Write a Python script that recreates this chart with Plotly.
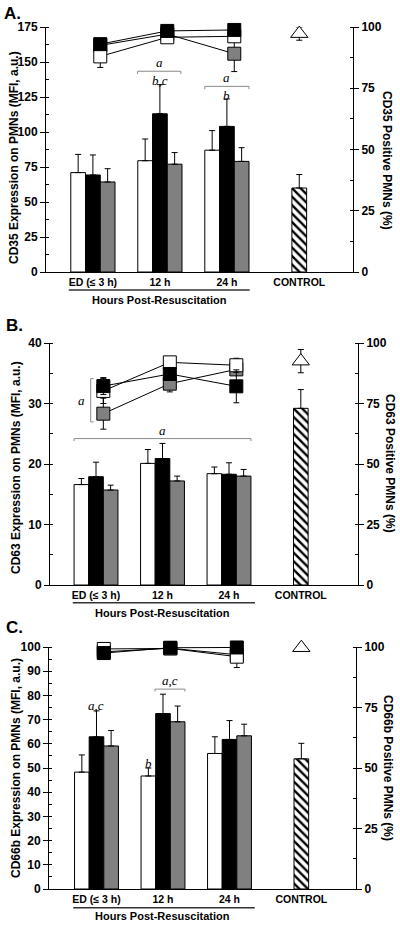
import plotly.graph_objects as go
from plotly.subplots import make_subplots

W, H = 400, 930

# ---------------- data ----------------
categories = ["ED (≤ 3 h)", "12 h", "24 h", "CONTROL"]
cat_pos = [0, 1, 2, 3.08]

# Panel A: CD35
a_mfi_white = [71.0, 79.5, 87.0]
a_mfi_white_err = [13.0, 15.5, 14.0]
a_mfi_black = [69.3, 113.0, 104.0]
a_mfi_black_err = [14.3, 20.8, 19.6]
a_mfi_gray = [64.3, 77.0, 79.0]
a_mfi_gray_err = [9.5, 8.3, 9.8]
a_mfi_control = 60.0
a_mfi_control_err = 9.6
a_pct_white = [88.0, 95.8, 96.2]
a_pct_white_err = [4.5, 2.0, 2.0]
a_pct_black = [93.0, 98.4, 98.8]
a_pct_black_err = [2.0, 1.5, 1.5]
a_pct_gray = [92.5, 97.1, 89.1]
a_pct_gray_err = [2.0, 2.0, 7.3]
a_pct_control = 97.3
a_pct_control_err = 2.7

# Panel B: CD63
b_mfi_white = [16.6, 20.1, 18.4]
b_mfi_white_err = [1.0, 2.3, 1.1]
b_mfi_black = [17.9, 20.9, 18.3]
b_mfi_black_err = [2.4, 2.5, 1.9]
b_mfi_gray = [15.7, 17.2, 18.0]
b_mfi_gray_err = [0.8, 0.8, 1.1]
b_mfi_control = 29.2
b_mfi_control_err = 3.1
b_pct_white = [80.2, 92.0, 90.8]
b_pct_white_err = [5.2, 1.5, 2.9]
b_pct_black = [82.2, 87.2, 82.1]
b_pct_black_err = [3.5, 2.0, 6.8]
b_pct_gray = [70.8, 83.2, 89.1]
b_pct_gray_err = [6.4, 3.4, 1.5]
b_pct_control = 92.5
b_pct_control_err = 4.8

# Panel C: CD66b
c_mfi_white = [48.3, 46.7, 56.0]
c_mfi_white_err = [7.1, 3.3, 6.9]
c_mfi_black = [62.9, 72.5, 61.8]
c_mfi_black_err = [10.7, 8.0, 7.8]
c_mfi_gray = [59.1, 69.1, 63.3]
c_mfi_gray_err = [6.4, 6.5, 4.8]
c_mfi_control = 53.8
c_mfi_control_err = 6.4
c_pct_white = [99.2, 99.4, 96.0]
c_pct_white_err = [1.0, 1.0, 4.5]
c_pct_black = [97.5, 99.7, 99.8]
c_pct_black_err = [1.0, 1.0, 1.0]
c_pct_gray = [98.0, 99.5, 96.8]
c_pct_gray_err = [1.0, 1.0, 1.0]
c_pct_control = 99.7
c_pct_control_err = 0.5

left_titles = ["CD35 Expression on PMNs (MFI, a.u.)",
               "CD63 Expression on PMNs (MFI, a.u.)",
               "CD66b Expression on PMNs (MFI, a.u.)"]
right_titles = ["CD35 Positive PMNs (%)",
                "CD63 Positive PMNs (%)",
                "CD66b Positive PMNs (%)"]
panel_labels = ["A.", "B.", "C."]
group_title = "Hours Post-Resuscitation"

# ---------------- styling / layout ----------------
SANS = "Liberation Sans, Arial, sans-serif"
SERIF = "Liberation Serif, Times New Roman, serif"
GRAY = "#808080"
BW = 0.22
OFFS = [-0.33, -0.11, 0.11]
LINE_DX = 0.11


def px(x):
    return x / W


def py(y):
    return 1 - y / H


# pixel boxes of plot areas: (left, right, top, bottom)
boxes = [(46, 353, 27, 272), (50, 358, 343, 585), (49, 356, 647, 889)]
xranges = [[-0.70, 3.882], [-0.692, 3.94], [-0.714, 3.902]]
lranges = [[0, 175], [0, 40], [0, 100]]
ldticks = [25, 10, 10]
lminor = [12.5, 5, 5]

fig = make_subplots(rows=3, cols=1, specs=[[{"secondary_y": True}]] * 3)

panels = [
    (a_mfi_white, a_mfi_white_err, a_mfi_black, a_mfi_black_err, a_mfi_gray, a_mfi_gray_err,
     a_mfi_control, a_mfi_control_err,
     a_pct_white, a_pct_white_err, a_pct_black, a_pct_black_err, a_pct_gray, a_pct_gray_err,
     a_pct_control, a_pct_control_err),
    (b_mfi_white, b_mfi_white_err, b_mfi_black, b_mfi_black_err, b_mfi_gray, b_mfi_gray_err,
     b_mfi_control, b_mfi_control_err,
     b_pct_white, b_pct_white_err, b_pct_black, b_pct_black_err, b_pct_gray, b_pct_gray_err,
     b_pct_control, b_pct_control_err),
    (c_mfi_white, c_mfi_white_err, c_mfi_black, c_mfi_black_err, c_mfi_gray, c_mfi_gray_err,
     c_mfi_control, c_mfi_control_err,
     c_pct_white, c_pct_white_err, c_pct_black, c_pct_black_err, c_pct_gray, c_pct_gray_err,
     c_pct_control, c_pct_control_err),
]


def bar_err(arr):
    return dict(type="data", array=arr, arrayminus=[0] * len(arr), symmetric=False,
                color="black", thickness=1, width=3)


def sym_err(arr):
    return dict(type="data", array=arr, symmetric=True, color="black", thickness=1, width=3)


for i, p in enumerate(panels):
    (mw, mwe, mb, mbe, mg, mge, mc, mce, pw, pwe, pb, pbe, pg, pge, pc, pce) = p
    row = i + 1
    xs = cat_pos[:3]
    fills = [("white", mw, mwe), ("black", mb, mbe), (GRAY, mg, mge)]
    for (col, vals, errs), off in zip(fills, OFFS):
        fig.add_trace(go.Bar(x=xs, y=vals, width=BW, offset=off,
                             marker=dict(color=col, line=dict(color="black", width=1)),
                             error_y=bar_err(errs), showlegend=False),
                      row=row, col=1, secondary_y=False)
    fig.add_trace(go.Bar(x=[cat_pos[3]], y=[mc], width=BW, offset=-BW / 2,
                         marker=dict(color="white", line=dict(color="black", width=1),
                                     pattern=dict(shape="\\", fgcolor="black", bgcolor="white",
                                                  size=6, solidity=0.4)),
                         error_y=bar_err([mce]), showlegend=False),
                  row=row, col=1, secondary_y=False)
    lx = [v + LINE_DX for v in xs]
    for col, vals, errs in [(GRAY, pg, pge), ("white", pw, pwe), ("black", pb, pbe)]:
        fig.add_trace(go.Scatter(x=lx, y=vals, mode="lines+markers",
                                 line=dict(color="black", width=1),
                                 marker=dict(symbol="square", size=13, color=col,
                                             line=dict(color="black", width=1)),
                                 error_y=sym_err(errs), cliponaxis=False, showlegend=False),
                      row=row, col=1, secondary_y=True)
    fig.add_trace(go.Scatter(x=[cat_pos[3]], y=[pc], mode="markers",
                             marker=dict(symbol="triangle-up", size=15, color="white",
                                         line=dict(color="black", width=1)),
                             error_y=sym_err([pce]), cliponaxis=False, showlegend=False),
                  row=row, col=1, secondary_y=True)

fig.update_layout(template="none", barmode="overlay", width=W, height=H,
                  margin=dict(l=0, r=0, t=0, b=0, autoexpand=False),
                  paper_bgcolor="white", plot_bgcolor="white", showlegend=False,
                  font=dict(family=SANS, color="black"))

annotations = []
shapes = []
for i in range(3):
    l, r, t, b = boxes[i]
    xn = "xaxis" if i == 0 else f"xaxis{i + 1}"
    yl = "yaxis" if i == 0 else f"yaxis{2 * i + 1}"
    yr = f"yaxis{2 * i + 2}"
    dom_y = [py(b), py(t)]
    fig.layout[xn].update(domain=[px(l), px(r)], range=xranges[i], tickvals=cat_pos,
                          ticktext=categories, ticks="", showline=True, linecolor="black",
                          linewidth=1, showgrid=False, zeroline=False, automargin=False,
                          tickfont=dict(family=SANS, size=10.5, weight="bold"))
    fig.layout[yl].update(domain=dom_y, range=lranges[i], dtick=ldticks[i], tick0=0,
                          ticks="outside", ticklen=5, tickcolor="black", showline=True,
                          linecolor="black", linewidth=1, showgrid=False, zeroline=False,
                          automargin=False,
                          minor=dict(dtick=lminor[i], ticks="inside", ticklen=3,
                                     tickcolor="black", showgrid=False),
                          tickfont=dict(family=SANS, size=12, weight="bold"))
    fig.layout[yr].update(domain=dom_y, range=[0, 100], dtick=25, tick0=0, side="right",
                          ticks="outside", ticklen=5, tickcolor="black", showline=True,
                          linecolor="black", linewidth=1, showgrid=False, zeroline=False,
                          automargin=False,
                          minor=dict(dtick=12.5, ticks="inside", ticklen=3,
                                     tickcolor="black", showgrid=False),
                          tickfont=dict(family=SANS, size=12, weight="bold"))

# axis titles, panel labels, group labels (pixel positions)
ltx = [14, 16, 16]
lty = [158, 468, 768]
rtx = [387, 390, 388]
rty = [160, 463, 768]
lab_x = [12, 14.5, 14.5]
lab_y = [14, 325, 627]
grp_line_y = [290, 602.7, 907.7]
grp_text_y = [299.5, 613, 916]
grp_line_x = [(-0.36, 2.34), (-0.35, 2.39), (-0.35, 2.38)]

CM = dict(xanchor="center", yanchor="middle", showarrow=False)

for i in range(3):
    xr = "x" if i == 0 else f"x{i + 1}"
    annotations.append(dict(text=left_titles[i], x=px(ltx[i]), y=py(lty[i]), xref="paper",
                            yref="paper", textangle=-90,
                            font=dict(family=SANS, size=12, weight="bold"), **CM))
    annotations.append(dict(text=right_titles[i], x=px(rtx[i]), y=py(rty[i]), xref="paper",
                            yref="paper", textangle=90,
                            font=dict(family=SANS, size=12, weight="bold"), **CM))
    annotations.append(dict(text=panel_labels[i], x=px(lab_x[i]), y=py(lab_y[i]), xref="paper",
                            yref="paper",
                            font=dict(family=SANS, size=17, weight="bold"), **CM))
    annotations.append(dict(text=group_title, x=1.0, y=py(grp_text_y[i]), xref=xr,
                            yref="paper",
                            font=dict(family=SANS, size=11, weight="bold"), **CM))
    shapes.append(dict(type="line", xref=xr, yref="paper", x0=grp_line_x[i][0],
                       x1=grp_line_x[i][1], y0=py(grp_line_y[i]), y1=py(grp_line_y[i]),
                       line=dict(color="#333333", width=1.5)))

BR = "#8a8a8a"


def hbracket(xref, yref, x0, x1, y, drop):
    return dict(type="path", xref=xref, yref=yref,
                path=f"M {x0},{y - drop} L {x0},{y} L {x1},{y} L {x1},{y - drop}",
                line=dict(color=BR, width=1))


def letter(txt, xref, yref, x, y, anchor="middle", shift=0):
    return dict(text=f"<i>{txt}</i>", x=x, y=y, xref=xref, yref=yref, showarrow=False,
                xanchor="center", yanchor=anchor, yshift=shift, borderpad=0,
                font=dict(family=SERIF, size=13, color="black"))


# Panel A significance marks
shapes.append(hbracket("x", "y", 0.667, 1.313, 143.4, 2))
shapes.append(hbracket("x", "y", 1.67, 2.33, 132.6, 2))
annotations += [letter("a", "x", "y", 1.0, 143.4, "bottom", 0),
                letter("b,c", "x", "y", 1.0, 143.4, "top", -1),
                letter("a", "x", "y", 2.0, 132.6, "bottom", 0),
                letter("b", "x", "y", 2.0, 132.6, "top", -1)]
# Panel B
shapes.append(hbracket("x2", "y3", -0.33, 2.33, 24.2, 0.4))
shapes.append(dict(type="path", xref="x2", yref="y4",
                   path="M -0.035,85.3 L -0.08,85.3 L -0.08,67.4 L -0.035,67.4",
                   line=dict(color=BR, width=1)))
annotations += [letter("a", "x2", "y3", 1.0, 24.2, "bottom", 0),
                letter("a", "x2", "y4", -0.225, 76.4)]
# Panel C
shapes.append(hbracket("x3", "y5", 0.88, 1.33, 82.6, 1))
annotations += [letter("a,c", "x3", "y5", 0.0, 76.0),
                letter("a,c", "x3", "y5", 1.1, 82.6, "bottom", 0),
                letter("b", "x3", "y5", 0.78, 52.0)]

fig.update_layout(annotations=annotations, shapes=shapes)
fig.write_html("out.html", config={"displayModeBar": False},
               post_script="document.body.style.margin='0';document.body.style.padding='0';")
